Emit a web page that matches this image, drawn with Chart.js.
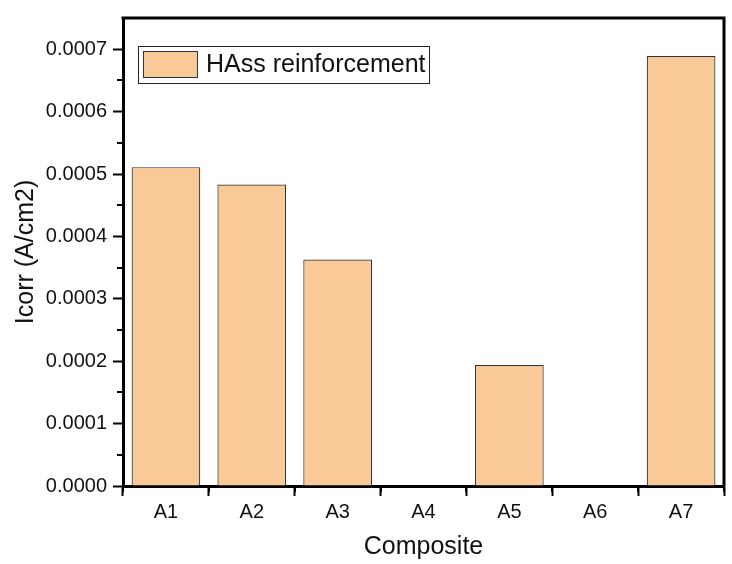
<!DOCTYPE html>
<html>
<head>
<meta charset="utf-8">
<script src="https://cdn.jsdelivr.net/npm/chart.js@4"></script>
<style>
  html, body { margin: 0; padding: 0; background: #fff; }
  #wrap { width: 732px; height: 564px; }
</style>
</head>
<body>
<div id="wrap"><canvas id="chart" width="732" height="564"></canvas></div>
<script>
/* ---------- data ---------- */
const categories = ['A1', 'A2', 'A3', 'A4', 'A5', 'A6', 'A7'];
const icorr = [0.000511, 0.000483, 0.000363, null, 0.000194, null, 0.000689];
const seriesLabel = 'HAss reinforcement';
const yTicks = [0, 0.0001, 0.0002, 0.0003, 0.0004, 0.0005, 0.0006, 0.0007];

const FONT = "'Liberation Sans', Arial, sans-serif";
const BAR_FILL = '#fac998';
const BAR_EDGE = '#333333';

/* ---------- frame, minor ticks, legend ---------- */
const decor = {
  id: 'decor',
  afterDraw(chart) {
    const { ctx, chartArea: a, scales: { x, y } } = chart;
    ctx.save();
    ctx.strokeStyle = '#000';
    // top + right frame
    ctx.lineWidth = 3;
    ctx.beginPath();
    ctx.moveTo(a.left - 1.5, a.top);
    ctx.lineTo(a.right, a.top);
    ctx.lineTo(a.right, a.bottom + 1.5);
    ctx.stroke();
    // minor ticks
    ctx.lineWidth = 2;
    ctx.beginPath();
    for (let i = 0; i < yTicks.length; i++) {
      const py = Math.round(y.getPixelForValue(yTicks[i] + 0.00005));
      if (py < a.top + 2) continue;
      ctx.moveTo(a.left - 6, py);
      ctx.lineTo(a.left, py);
    }
    const half = (x.getPixelForValue(1) - x.getPixelForValue(0)) / 2;
    for (let i = 0; i <= categories.length; i++) {
      const px = Math.round(x.getPixelForValue(i) - half);
      ctx.moveTo(px, a.bottom);
      ctx.lineTo(px, a.bottom + 6);
    }
    ctx.stroke();
    // legend
    const lx = a.left + 15, ly = a.top + 28;
    ctx.lineWidth = 1;
    ctx.strokeStyle = '#222';
    ctx.strokeRect(lx + 0.5, ly + 0.5, 291, 37);
    ctx.fillStyle = BAR_FILL;
    ctx.fillRect(lx + 5, ly + 5, 55, 27);
    ctx.strokeStyle = BAR_EDGE;
    ctx.strokeRect(lx + 5.5, ly + 5.5, 54, 26);
    ctx.fillStyle = '#111';
    ctx.font = '25px ' + FONT;
    ctx.textBaseline = 'middle';
    ctx.fillText(chart.data.datasets[0].label, lx + 68, ly + 19);
    ctx.restore();
  }
};

new Chart(document.getElementById('chart'), {
  type: 'bar',
  data: {
    labels: categories,
    datasets: [{
      label: seriesLabel,
      data: icorr,
      backgroundColor: BAR_FILL,
      borderColor: BAR_EDGE,
      borderWidth: 1.2,
      categoryPercentage: 1,
      barPercentage: 0.8
    }]
  },
  options: {
    responsive: false,
    animation: false,
    layout: { padding: { top: 10, right: 8, left: 0, bottom: 0 } },
    plugins: { legend: { display: false }, tooltip: { enabled: false } },
    scales: {
      x: {
        grid: { drawOnChartArea: false, tickLength: 10, tickWidth: 2, color: '#000' },
        border: { display: true, width: 3, color: '#000' },
        ticks: { color: '#111', font: { family: FONT, size: 20 }, padding: 4 },
        title: { display: true, text: 'Composite', color: '#111', font: { family: FONT, size: 25 }, padding: { top: 2, bottom: 2 } },
        afterFit(s) { s.height = 78; }
      },
      y: {
        min: 0,
        max: 0.00075,
        afterBuildTicks(s) { s.ticks = yTicks.map(v => ({ value: v })); },
        grid: { drawOnChartArea: false, tickLength: 10, tickWidth: 2, color: '#000' },
        border: { display: true, width: 3, color: '#000' },
        ticks: { color: '#111', font: { family: FONT, size: 20 }, padding: 6, callback: v => v.toFixed(4) },
        title: { display: true, text: 'Icorr (A/cm2)', color: '#111', font: { family: FONT, size: 25 }, padding: { top: 11, bottom: 0 } },
        afterFit(s) { s.width = 123; }
      }
    }
  },
  plugins: [decor]
});
</script>
</body>
</html>
